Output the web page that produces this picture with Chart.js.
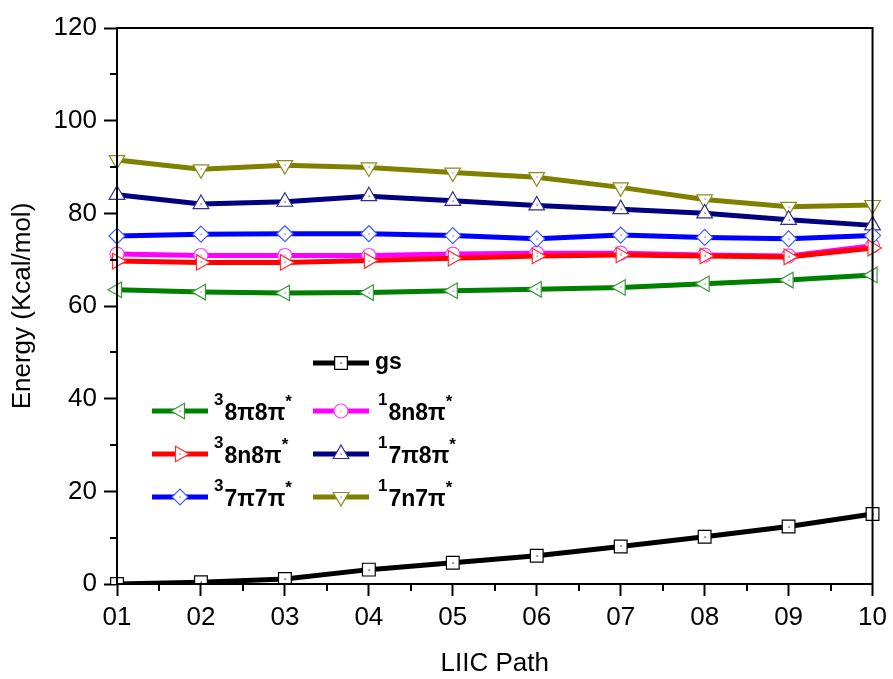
<!DOCTYPE html>
<html>
<head>
<meta charset="utf-8">
<script src="https://cdn.jsdelivr.net/npm/chart.js@4/dist/chart.umd.min.js"></script>
<style>
  html, body { margin: 0; padding: 0; background: #fff; }
</style>
</head>
<body>
<canvas id="grafico" width="893" height="679"></canvas>
<script>
// Pontos do caminho LIIC
var passos = ['01', '02', '03', '04', '05', '06', '07', '08', '09', '10'];

// Energias (Kcal/mol)
var gs        = [0, 0.4, 1.1, 3.1, 4.6, 6.1, 8.1, 10.2, 12.4, 15.1];
var t8pi8pi   = [63.5, 63.0, 62.8, 62.9, 63.3, 63.6, 64.0, 64.8, 65.6, 66.7];
var t8n8pi    = [69.7, 69.4, 69.4, 69.8, 70.3, 70.8, 71.0, 70.8, 70.6, 72.5];
var t7pi7pi   = [75.1, 75.5, 75.6, 75.6, 75.2, 74.5, 75.3, 74.8, 74.5, 75.2];
var s8n8pi    = [71.2, 70.9, 70.9, 70.9, 71.2, 71.4, 71.4, 71.0, 70.8, 73.0];
var s7pi8pi   = [84.0, 82.0, 82.5, 83.7, 82.7, 81.7, 80.9, 80.0, 78.6, 77.4];
var s7n7pi    = [91.5, 89.5, 90.4, 89.9, 88.8, 87.8, 85.6, 83.0, 81.4, 81.8];

var nomes = ['gs', '38\u03c08\u03c0*', '38n8\u03c0*', '37\u03c07\u03c0*', '18n8\u03c0*', '17\u03c08\u03c0*', '17n7\u03c0*'];
var series = [gs, t8pi8pi, t8n8pi, t7pi7pi, s8n8pi, s7pi8pi, s7n7pi];
var cores = ['#000000', '#008000', '#ff0000', '#0000ff', '#ff00ff', '#000080', '#808000'];
var coresMarcador = ['#000000', '#3a9a3a', '#ff3030', '#4060ff', '#ff40ff', '#303090', '#8c8c20'];
var estilos = ['rect', 'triangle', 'triangle', 'rectRot', 'circle', 'triangle', 'triangle'];
var rotacoes = [0, -90, 90, 0, 0, 0, 180];
var raios = [9, 9, 9, 8, 7, 9, 9];

// posições da legenda (coluna, linha)
var legendaPos = [[1, 0], [0, 1], [0, 2], [0, 3], [1, 1], [1, 2], [1, 3]];

var FONTE = '"Liberation Sans", Arial, sans-serif';
Chart.defaults.font.family = FONTE;
Chart.defaults.color = '#000';

var datasets = series.map(function (valores, i) {
    return {
        label: nomes[i],
        data: valores,
        borderColor: cores[i],
        backgroundColor: '#ffffff',
        borderWidth: 5,
        tension: 0,
        pointStyle: estilos[i],
        rotation: rotacoes[i],
        pointRadius: raios[i],
        pointHoverRadius: raios[i],
        pointBackgroundColor: '#ffffff',
        pointBorderColor: coresMarcador[i],
        pointBorderWidth: 1.2
    };
});

var moldura = {
    id: 'moldura',
    afterDatasetsDraw: function (chart) {
        var ctx = chart.ctx;
        ctx.save();
        chart.data.datasets.forEach(function (ds, i) {
            ctx.fillStyle = coresMarcador[i];
            chart.getDatasetMeta(i).data.forEach(function (p) {
                ctx.fillRect(Math.round(p.x) - 0.5, Math.round(p.y) - 0.5, 1.2, 1.2);
            });
        });
        ctx.restore();
    },
    afterDraw: function (chart) {
        var ctx = chart.ctx;
        var a = chart.chartArea;
        var x = chart.scales.x, y = chart.scales.y;
        ctx.save();
        ctx.strokeStyle = '#000';
        ctx.lineWidth = 2;
        ctx.strokeRect(a.left, a.top, a.right - a.left, a.bottom - a.top);

        // ticks menores
        ctx.lineWidth = 2;
        ctx.beginPath();
        for (var v = 10; v < 120; v += 20) {
            var py = Math.round(y.getPixelForValue(v));
            ctx.moveTo(a.left - 7, py);
            ctx.lineTo(a.left, py);
        }
        for (var k = 0; k < passos.length - 1; k++) {
            var px = Math.round((x.getPixelForValue(k) + x.getPixelForValue(k + 1)) / 2);
            ctx.moveTo(px, a.bottom);
            ctx.lineTo(px, a.bottom + 7);
        }
        ctx.stroke();

        // legenda
        var colX = [152, 313];
        var rowY = [363, 411, 454, 497];
        chart.data.datasets.forEach(function (ds, i) {
            var c = legendaPos[i][0], r = legendaPos[i][1];
            var x0 = colX[c], yy = rowY[r];
            ctx.strokeStyle = ds.borderColor;
            ctx.lineWidth = 5;
            ctx.beginPath();
            ctx.moveTo(x0, yy);
            ctx.lineTo(x0 + 56, yy);
            ctx.stroke();
            ctx.fillStyle = '#ffffff';
            ctx.strokeStyle = coresMarcador[i];
            ctx.lineWidth = 1.2;
            Chart.helpers.drawPoint(ctx, {
                pointStyle: ds.pointStyle,
                rotation: ds.rotation,
                radius: ds.pointRadius,
                borderWidth: 1.2
            }, x0 + 28, yy);
            ctx.fillStyle = coresMarcador[i];
            ctx.fillRect(x0 + 27.5, yy - 0.5, 1.2, 1.2);

            var nome = ds.label;
            var tx = x0 + 62;
            ctx.fillStyle = '#000';
            ctx.textBaseline = 'alphabetic';
            ctx.textAlign = 'left';
            if (nome.length <= 2) {
                ctx.font = 'bold 23px ' + FONTE;
                ctx.fillText(nome, tx, yy + 6);
            } else {
                var sup = nome.charAt(0);
                var corpo = nome.slice(1, -1);
                var estrela = nome.slice(-1);
                if (c === 1) tx += 3;
                ctx.font = 'bold 17px ' + FONTE;
                ctx.fillText(sup, tx, yy - 6);
                tx += ctx.measureText(sup).width + 1;
                ctx.font = 'bold 23px ' + FONTE;
                ctx.fillText(corpo, tx, yy + 9);
                tx += ctx.measureText(corpo).width;
                ctx.font = 'bold 17px ' + FONTE;
                ctx.fillText(estrela, tx, yy - 4);
            }
        });
        ctx.restore();
    }
};

var ctx = document.getElementById('grafico').getContext('2d');
var grafico = new Chart(ctx, {
    type: 'line',
    data: {
        labels: passos,
        datasets: datasets
    },
    options: {
        responsive: false,
        animation: false,
        events: [],
        layout: { padding: { left: 0, top: 28, right: 20, bottom: 0 } },
        plugins: {
            legend: { display: false },
            tooltip: { enabled: false }
        },
        scales: {
            x: {
                type: 'category',
                offset: false,
                afterFit: function (s) { s.height = 95; },
                grid: {
                    drawOnChartArea: false,
                    offset: false,
                    color: '#000',
                    tickLength: 12,
                    tickWidth: 2
                },
                border: { display: true, color: '#000', width: 2 },
                ticks: {
                    color: '#000',
                    font: { size: 26 },
                    padding: 6,
                    maxRotation: 0,
                    autoSkip: false
                },
                title: {
                    display: true,
                    text: 'LIIC Path',
                    color: '#000',
                    font: { size: 26 },
                    padding: { top: 0, bottom: 0 }
                }
            },
            y: {
                min: 0,
                max: 120,
                afterFit: function (s) { s.width = 117; },
                grid: {
                    drawOnChartArea: false,
                    color: '#000',
                    tickLength: 13,
                    tickWidth: 2
                },
                border: { display: true, color: '#000', width: 2 },
                ticks: {
                    stepSize: 20,
                    color: '#000',
                    font: { size: 26 },
                    padding: 7
                },
                title: {
                    display: true,
                    text: 'Energy (Kcal/mol)',
                    color: '#000',
                    font: { size: 26 },
                    padding: { top: 7, bottom: 0 }
                }
            }
        }
    },
    plugins: [moldura]
});
</script>
</body>
</html>
